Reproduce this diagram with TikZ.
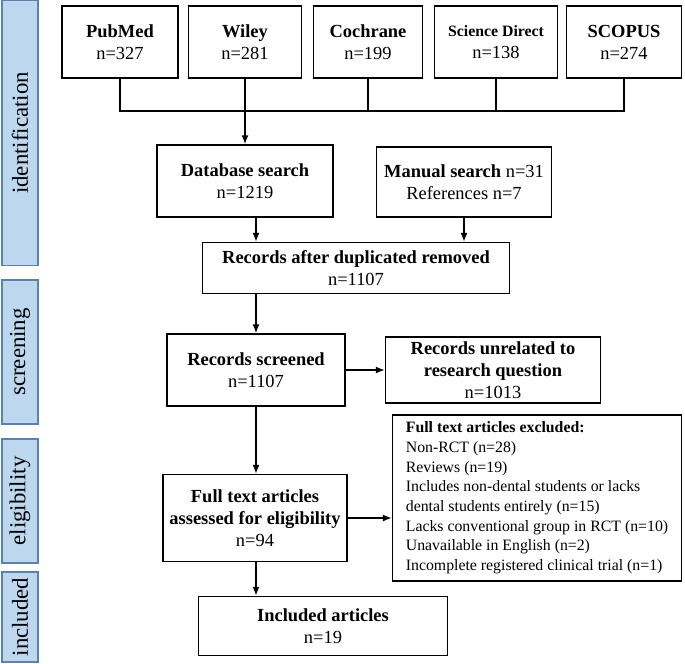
\documentclass[tikz,border=0pt]{standalone}
\usepackage{fontspec}
\setmainfont{Liberation Serif}
\usetikzlibrary{arrows.meta, positioning}
\definecolor{stageblue}{RGB}{189,215,238}
\definecolor{stageedge}{RGB}{90,130,175}
\tikzset{
  box/.style={draw, line width=0.9pt, align=center, font=\fontsize{10.5}{12.5}\selectfont, inner sep=1pt},
  stage/.style={draw=stageedge, fill=stageblue, line width=0.8pt, minimum width=0.72cm, font=\fontsize{13}{15}\selectfont},
  flow/.style={-{Latex[length=5pt,width=4pt]}, line width=0.9pt},
  link/.style={line width=0.9pt}
}
\begin{document}
\begin{tikzpicture}[x=0.02cm, y=-0.02cm]
\useasboundingbox (0,0) rectangle (685,663);

% stages
\node[stage, minimum height=5.3cm] (Ident) at (20,133) {\rotatebox{90}{identification}};
\node[stage, minimum height=2.88cm] (Screen) at (20,352) {\rotatebox{90}{screening}};
\node[stage, minimum height=2.48cm] (Elig) at (20,501) {\rotatebox{90}{eligibility}};
\node[stage, minimum height=1.72cm] (Incl) at (20,617) {\rotatebox{90}{included}};

% databases
\node[box, minimum width=2.32cm, minimum height=1.44cm] (PubMed) at (120,42) {\textbf{PubMed}\\n=327};
\node[box, minimum width=2.26cm, minimum height=1.44cm] (Wiley) at (245,42) {\textbf{Wiley}\\n=281};
\node[box, minimum width=2.18cm, minimum height=1.44cm] (Cochrane) at (368,42) {\textbf{Cochrane}\\n=199};
\node[box, minimum width=2.46cm, minimum height=1.44cm] (SciDir) at (496,42) {\textbf{\fontsize{9}{10}\selectfont Science Direct}\\n=138};
\node[box, minimum width=2.3cm, minimum height=1.44cm] (Scopus) at (624,42) {\textbf{SCOPUS}\\n=274};

\node[box, minimum width=3.52cm, minimum height=1.44cm] (DbSearch) at (245,181) {\textbf{Database search}\\n=1219};
\node[box, minimum width=3.5cm, minimum height=1.4cm] (Manual) at (464,182) {\textbf{Manual search} n=31\\References n=7};
\node[box, minimum width=6.14cm, minimum height=1.02cm] (Dedup) at (356,268) {\textbf{Records after duplicated removed}\\n=1107};
\node[box, minimum width=3.56cm, minimum height=1.44cm] (Screened) at (256,370) {\textbf{Records screened}\\n=1107};
\node[box, minimum width=4.3cm, minimum height=1.32cm] (Unrelated) at (493,370) {\textbf{Records unrelated to}\\\textbf{research question}\\n=1013};
\node[box, minimum width=3.68cm, minimum height=1.74cm] (FullText) at (255,518) {\textbf{Full text articles}\\\textbf{assessed for eligibility}\\n=94};
\node[box, minimum width=5.78cm, minimum height=3.0cm, align=left, inner sep=4pt, font=\fontsize{9}{11.2}\selectfont] (Excluded) at (537,498) {\textbf{Full text articles excluded:}\\Non-RCT (n=28)\\Reviews (n=19)\\Includes non-dental students or lacks\\dental students entirely (n=15)\\Lacks conventional group in RCT (n=10)\\Unavailable in English (n=2)\\Incomplete registered clinical trial (n=1)};
\node[box, minimum width=4.98cm, minimum height=1.18cm] (Included) at (323,626) {\textbf{Included articles}\\n=19};

% connectors
\coordinate (Join) at (245,111);
\draw[link] (PubMed.south) |- (Join) -| (Scopus.south);
\draw[link] (Cochrane.south) -- (Cochrane.south |- Join);
\draw[link] (SciDir.south) -- (SciDir.south |- Join);
\draw[link] (Wiley.south) -- (Join);
\draw[flow] (Join) -- (DbSearch.north);
\draw[flow] (DbSearch.south -| Screened) -- (Dedup.north -| Screened);
\draw[flow] (Manual.south) -- (Dedup.north -| Manual);
\draw[flow] (Dedup.south -| Screened) -- (Screened.north);
\draw[flow] (Screened) -- (Unrelated);
\draw[flow] (Screened.south) -- (FullText.north -| Screened);
\draw[flow] (FullText.east) -- (Excluded.west |- FullText.east);
\draw[flow] (FullText.south -| Screened) -- (Included.north -| Screened);

\end{tikzpicture}
\end{document}
